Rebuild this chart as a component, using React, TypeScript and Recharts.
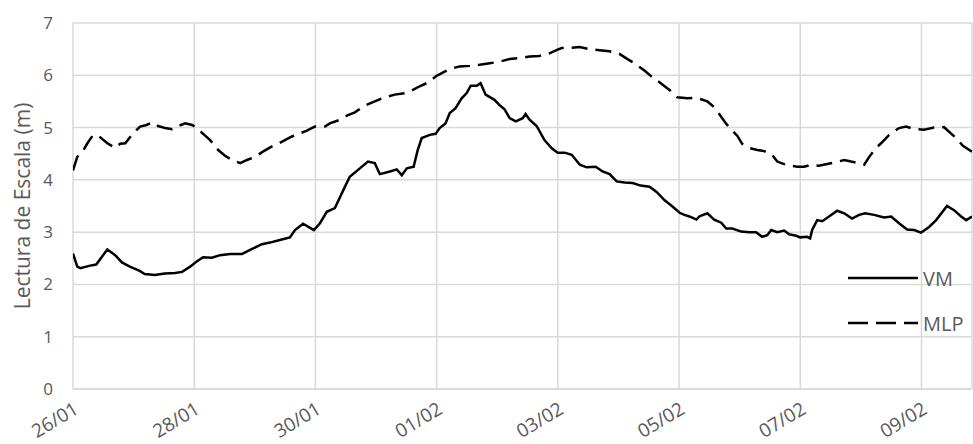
import { LineChart, Line, XAxis, YAxis, CartesianGrid, Legend } from 'recharts';

// Gauge readings: [hours since 26/01 00:00, level in metres]
const vmReadings: [number, number][] = [
  [0, 2.59], [1.7, 2.34], [2.9, 2.31], [6.8, 2.36], [9.2, 2.38], [13.6, 2.67], [16.7, 2.56],
  [19.4, 2.42], [22.5, 2.34], [26.4, 2.26], [28.4, 2.2], [32.3, 2.18], [36.4, 2.21], [40.4, 2.22],
  [43.2, 2.24], [46.4, 2.34], [48.7, 2.43], [51.5, 2.52], [55.0, 2.51], [58.2, 2.56], [62.2, 2.58],
  [66.9, 2.58], [70.1, 2.66], [74.8, 2.77], [78.0, 2.8], [81.9, 2.85], [85.9, 2.9], [87.9, 3.04],
  [91.1, 3.16], [95.4, 3.04], [97.8, 3.17], [100.5, 3.39], [103.7, 3.46], [107.7, 3.87], [109.6, 4.06],
  [113.6, 4.22], [116.8, 4.35], [119.5, 4.32], [121.5, 4.11], [125.5, 4.16], [128.2, 4.2], [130.2, 4.09],
  [132.2, 4.22], [134.9, 4.25], [136.5, 4.57], [138.1, 4.8], [141.3, 4.86], [143.6, 4.88], [145.2, 4.99],
  [147.5, 5.08], [149.2, 5.28], [151.5, 5.37], [153.9, 5.56], [155.9, 5.66], [157.5, 5.8], [159.9, 5.8],
  [161.4, 5.85], [163.4, 5.63], [166.9, 5.53], [168.9, 5.43], [170.9, 5.35], [172.9, 5.18], [175.3, 5.12],
  [178.1, 5.18], [179.2, 5.26], [180.8, 5.15], [183.6, 5.03], [186.7, 4.76], [189.5, 4.61], [191.9, 4.52],
  [194.7, 4.52], [197.5, 4.48], [200.7, 4.29], [203.4, 4.24], [207.0, 4.25], [209.7, 4.16], [212.5, 4.11],
  [215.3, 3.97], [218.4, 3.95], [221.6, 3.94], [224.8, 3.89], [228.3, 3.87], [231.1, 3.77], [234.3, 3.61],
  [237.4, 3.49], [240.2, 3.37], [242.1, 3.33], [244.1, 3.3], [246.9, 3.24], [248.0, 3.3], [251.2, 3.36],
  [253.9, 3.24], [256.7, 3.18], [258.7, 3.07], [261.1, 3.07], [264.6, 3.01], [267.8, 3.0], [270.5, 3.0],
  [272.9, 2.91], [274.9, 2.94], [276.5, 3.04], [278.9, 3.0], [281.6, 3.03], [283.6, 2.96], [286.4, 2.93],
  [287.9, 2.9], [290.7, 2.91], [291.9, 2.88], [292.7, 3.04], [294.7, 3.23], [296.7, 3.21], [299.4, 3.3],
  [302.6, 3.41], [305.4, 3.36], [308.5, 3.26], [311.3, 3.33], [313.7, 3.36], [317.2, 3.33], [321.2, 3.28],
  [324.0, 3.3], [327.1, 3.17], [330.3, 3.05], [333.1, 3.04], [335.8, 2.99], [339.0, 3.1], [341.8, 3.23],
  [346.1, 3.5], [348.9, 3.42], [351.7, 3.3], [353.7, 3.23], [356.0, 3.3],
];

const mlpReadings: [number, number][] = [
  [0, 4.18], [1.7, 4.44], [3.8, 4.54], [5.7, 4.7], [8.0, 4.86], [10.4, 4.83], [13.6, 4.7], [16.7, 4.61],
  [18.7, 4.69], [20.7, 4.7], [23.8, 4.89], [26.6, 5.02], [29.1, 5.05], [31.4, 5.1], [33.7, 5.03],
  [36.5, 4.99], [39.3, 4.97], [41.6, 5.03], [44.4, 5.08], [47.2, 5.05], [49.1, 4.99], [51.1, 4.9],
  [54.3, 4.76], [57.5, 4.57], [60.2, 4.46], [63.0, 4.38], [66.2, 4.32], [68.9, 4.38], [72.1, 4.44],
  [75.2, 4.54], [78.8, 4.64], [82.8, 4.73], [86.7, 4.83], [89.9, 4.89], [92.6, 4.94], [95.8, 5.02],
  [99.8, 5.02], [101.7, 5.08], [105.7, 5.15], [108.9, 5.24], [111.6, 5.29], [115.6, 5.42], [119.5, 5.5],
  [123.5, 5.58], [127.4, 5.63], [130.6, 5.65], [134.6, 5.72], [137.3, 5.79], [140.5, 5.86], [144.0, 5.99],
  [146.4, 6.05], [149.2, 6.12], [153.1, 6.17], [157.1, 6.18], [161.0, 6.2], [165.0, 6.23], [168.9, 6.26],
  [172.9, 6.31], [176.8, 6.33], [180.8, 6.36], [184.7, 6.37], [188.7, 6.42], [191.9, 6.49], [193.5, 6.52],
  [196.6, 6.52], [200.6, 6.54], [204.5, 6.5], [208.5, 6.48], [212.4, 6.46], [216.4, 6.41], [219.6, 6.31],
  [222.3, 6.23], [226.3, 6.09], [229.0, 5.98], [233.0, 5.84], [236.2, 5.72], [239.3, 5.58], [243.3, 5.56],
  [246.9, 5.57], [251.2, 5.5], [253.9, 5.39], [255.9, 5.26], [258.7, 5.07], [261.1, 4.94], [263.1, 4.84],
  [265.0, 4.69], [267.8, 4.61], [271.0, 4.57], [273.7, 4.55], [276.5, 4.5], [278.9, 4.35], [281.6, 4.3],
  [284.4, 4.27], [286.8, 4.25], [289.5, 4.25], [292.3, 4.29], [295.4, 4.27], [298.2, 4.3], [301.4, 4.33],
  [305.4, 4.38], [308.1, 4.35], [311.3, 4.32], [313.3, 4.29], [315.3, 4.44], [318.0, 4.61], [320.0, 4.7],
  [323.2, 4.86], [327.1, 4.99], [329.9, 5.02], [333.1, 4.97], [337.0, 4.96], [341.0, 5.0], [344.9, 5.01],
  [346.9, 4.92], [349.7, 4.8], [352.4, 4.65], [356.0, 4.54],
];

const dateTicks = [0, 48, 96, 144, 192, 240, 288, 336];
const dateLabels = ['26/01', '28/01', '30/01', '01/02', '03/02', '05/02', '07/02', '09/02'];
const levelTicks = [0, 1, 2, 3, 4, 5, 6, 7];
const seriesNames = ['VM', 'MLP'];

const FONT = "'Open Sans', sans-serif";
const TEXT_GREY = '#595959';
const GRID_GREY = '#d9d9d9';

const vmData = vmReadings.map(([h, v]) => ({ h, v }));
const mlpData = mlpReadings.map(([h, v]) => ({ h, v }));

const formatDate = (h: number) => dateLabels[dateTicks.indexOf(h)] ?? '';

function YTitle() {
  return (
    <text
      x={22}
      y={206}
      transform="rotate(-90 22 206)"
      textAnchor="middle"
      dominantBaseline="central"
      fill={TEXT_GREY}
      fontFamily={FONT}
      fontSize={21}
    >
      Lectura de Escala (m)
    </text>
  );
}

function LegendKey() {
  return (
    <svg width={125} height={74} style={{ display: 'block' }}>
      {seriesNames.map((name, i) => {
        const y = 14 + i * 45;
        return (
          <g key={name}>
            <line
              x1={0}
              y1={y}
              x2={70}
              y2={y}
              stroke="#000"
              strokeWidth={2.5}
              strokeDasharray={i === 1 ? '20 8' : undefined}
            />
            <text
              x={75}
              y={y}
              dominantBaseline="central"
              fill={TEXT_GREY}
              fontFamily={FONT}
              fontSize={20}
            >
              {name}
            </text>
          </g>
        );
      })}
    </svg>
  );
}

export default function App() {
  return (
    <div style={{ width: 973, height: 444, background: '#fff' }}>
      <style>{'body{margin:0}'}</style>
      <LineChart width={973} height={444} margin={{ top: 23, right: 1, bottom: 0, left: 0 }}>
        <CartesianGrid stroke={GRID_GREY} strokeWidth={1.5} />
        <XAxis
          type="number"
          dataKey="h"
          domain={[0, 356]}
          ticks={dateTicks}
          tickFormatter={formatDate}
          allowDataOverflow
          height={55}
          angle={-31}
          textAnchor="end"
          tickLine={false}
          tickMargin={6}
          axisLine={{ stroke: GRID_GREY, strokeWidth: 1.5 }}
          tick={{ fill: TEXT_GREY, fontSize: 19, fontFamily: FONT }}
        />
        <YAxis
          type="number"
          domain={[0, 7]}
          ticks={levelTicks}
          width={73}
          axisLine={false}
          tickLine={false}
          tickMargin={14}
          tick={{ fill: TEXT_GREY, fontSize: 17, fontFamily: FONT }}
          label={YTitle}
        />
        <Legend
          layout="vertical"
          align="center"
          verticalAlign="middle"
          content={LegendKey}
          wrapperStyle={{ left: 848, top: 264, width: 125 }}
        />
        <Line
          data={vmData}
          dataKey="v"
          name={seriesNames[0]}
          type="linear"
          stroke="#000"
          strokeWidth={2.5}
          dot={false}
          isAnimationActive={false}
        />
        <Line
          data={mlpData}
          dataKey="v"
          name={seriesNames[1]}
          type="linear"
          stroke="#000"
          strokeWidth={2.5}
          strokeDasharray="16 8"
          dot={false}
          isAnimationActive={false}
        />
      </LineChart>
    </div>
  );
}
